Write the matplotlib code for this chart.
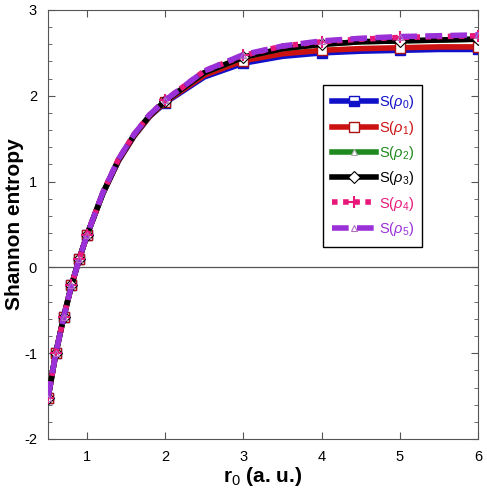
import numpy as np
import matplotlib
matplotlib.use('agg')
import matplotlib.pyplot as plt
from matplotlib.ticker import MultipleLocator

plt.rcParams['font.family'] = ['Liberation Sans', 'DejaVu Sans']
plt.rcParams['mathtext.fontset'] = 'custom'
plt.rcParams['mathtext.rm'] = 'Liberation Sans'
plt.rcParams['mathtext.it'] = 'Liberation Sans:italic'
plt.rcParams['axes.unicode_minus'] = False

# r0 grid
r0 = [0.5, 0.6, 0.7, 0.8, 0.9, 1.0, 1.2, 1.4, 1.6, 1.8, 2.0,
      2.5, 3.0, 3.5, 4.0, 4.5, 5.0, 5.5, 6.0]
mark_idx = [0, 1, 2, 3, 4, 5, 10, 12, 14, 16, 18]

s0 = [-1.52, -1.00, -0.58, -0.21, 0.10, 0.38, 0.86, 1.24, 1.53, 1.76, 1.92,
      2.22, 2.38, 2.46, 2.50, 2.52, 2.53, 2.54, 2.54]
s1 = [-1.52, -1.00, -0.58, -0.21, 0.10, 0.38, 0.86, 1.24, 1.53, 1.76, 1.93,
      2.24, 2.41, 2.49, 2.53, 2.55, 2.56, 2.57, 2.57]
s2 = [-1.52, -1.00, -0.58, -0.21, 0.10, 0.38, 0.86, 1.25, 1.54, 1.77, 1.94,
      2.27, 2.45, 2.55, 2.60, 2.63, 2.64, 2.65, 2.66]
s3 = [-1.52, -1.00, -0.58, -0.21, 0.10, 0.38, 0.86, 1.25, 1.54, 1.77, 1.94,
      2.27, 2.45, 2.55, 2.60, 2.63, 2.64, 2.65, 2.66]
s4 = [-1.52, -1.00, -0.58, -0.21, 0.10, 0.38, 0.87, 1.26, 1.55, 1.78, 1.95,
      2.29, 2.47, 2.58, 2.63, 2.66, 2.68, 2.69, 2.70]
s5 = [-1.52, -1.00, -0.58, -0.21, 0.10, 0.38, 0.87, 1.26, 1.55, 1.78, 1.95,
      2.29, 2.48, 2.58, 2.64, 2.67, 2.69, 2.70, 2.71]

labels = [r'S($\rho_0$)', r'S($\rho_1$)', r'S($\rho_2$)',
          r'S($\rho_3$)', r'S($\rho_4$)', r'S($\rho_5$)']

fig = plt.figure(figsize=(4.87, 5.0), dpi=100)
ax = fig.add_axes([0.0986, 0.122, 0.883, 0.858])

ax.axhline(0, color='#555555', lw=0.9, zorder=1)

ax.plot(r0, s0, color='#1010c8', lw=4, ls='-', marker='s', ms=7,
        fillstyle='bottom', markerfacecolor='#1010c8',
        markerfacecoloralt='white', markeredgecolor='#1010c8', mew=1,
        markevery=mark_idx, label=labels[0], zorder=2)
ax.plot(r0, s1, color='#cc1111', lw=4, ls='-', marker='s', ms=7,
        markerfacecolor='white', markeredgecolor='#aa1111', mew=1,
        markevery=mark_idx, label=labels[1], zorder=3)
ax.plot(r0, s2, color='#1e8a1e', lw=4, ls='-', marker='^', ms=4,
        markerfacecolor='white', markeredgecolor='#aaaaaa', mew=0.8,
        markevery=mark_idx, label=labels[2], zorder=4)
ax.plot(r0, s3, color='black', lw=4, ls='-', marker='D', ms=6,
        markerfacecolor='white', markeredgecolor='black', mew=0.8,
        markevery=mark_idx, label=labels[3], zorder=5)
ax.plot(r0, s4, color='#e8177a', lw=4, ls=(0, (1, 1)), marker='+', ms=8,
        markeredgecolor='#e8177a', mew=1.5,
        markevery=mark_idx, label=labels[4], zorder=6)
ax.plot(r0, s5, color='#9a30d8', lw=4, ls=(0, (3, 1.5)), marker='^', ms=4,
        markerfacecolor='none', markeredgecolor='#b070c0', mew=0.8,
        markevery=mark_idx, label=labels[5], zorder=7)

ax.set_xlim(0.5, 6)
ax.set_ylim(-2, 3)
ax.xaxis.set_major_locator(MultipleLocator(1))
ax.yaxis.set_major_locator(MultipleLocator(1))
ax.yaxis.set_minor_locator(MultipleLocator(0.2))
ax.tick_params(which='both', direction='in', top=True, right=True,
               labelsize=10.5, color='#555555')
ax.tick_params(which='major', length=5, pad=8)
ax.tick_params(which='minor', length=3)
for sp in ax.spines.values():
    sp.set_color('#555555')

ax.set_xlabel(r'r$_0$ (a. u.)', fontsize=15, fontweight='bold', labelpad=1)
ax.set_ylabel('Shannon entropy', fontsize=15, fontweight='bold', labelpad=0)

leg = ax.legend(loc='upper left', bbox_to_anchor=(0.64, 0.826),
                fancybox=False, edgecolor='black', framealpha=1,
                fontsize=10.5, handlelength=3.0, handletextpad=0.2,
                labelspacing=0.5, borderpad=0.6, borderaxespad=0)
leg.get_frame().set_linewidth(1.0)
for txt, ln in zip(leg.get_texts(), leg.get_lines()):
    txt.set_color(ln.get_color())

fig.savefig('out.png', dpi=100)
